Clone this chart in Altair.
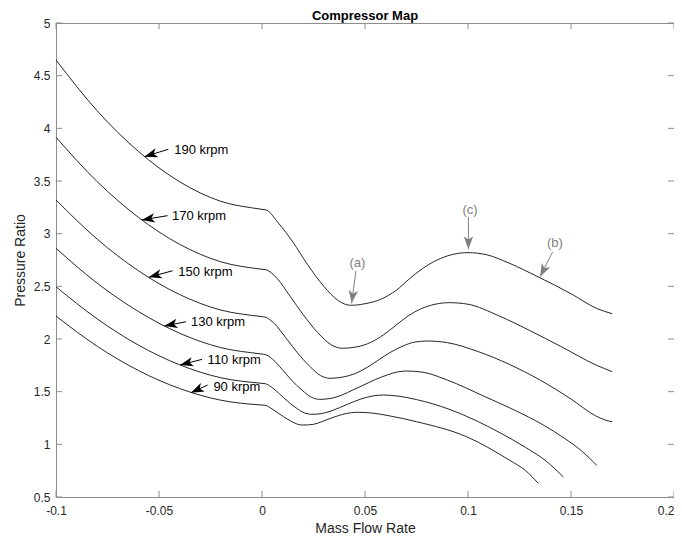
import math
import altair as alt
import pandas as pd

# ---------------- data ----------------
TITLE = "Compressor Map"
X_TICKS = [-0.1, -0.05, 0.0, 0.05, 0.1, 0.15, 0.2]
Y_TICKS = [0.5, 1.0, 1.5, 2.0, 2.5, 3.0, 3.5, 4.0, 4.5, 5.0]

SPEEDS = ["190 krpm", "170 krpm", "150 krpm", "130 krpm", "110 krpm", "90 krpm"]

X_LEFT = [-0.1, -0.08, -0.06, -0.04, -0.02, 0.0]

Y_LEFT_190 = [4.649, 4.166, 3.781, 3.493, 3.307, 3.231]
X_RIGHT_190 = [0.002, 0.008, 0.015, 0.022, 0.030, 0.037, 0.043, 0.050, 0.058, 0.065, 0.0715, 0.078, 0.085, 0.092, 0.100, 0.109, 0.120, 0.134, 0.150, 0.1625, 0.170]
Y_RIGHT_190 = [3.225, 3.10, 2.92, 2.71, 2.50, 2.365, 2.32, 2.335, 2.38, 2.46, 2.57, 2.67, 2.75, 2.80, 2.82, 2.80, 2.72, 2.59, 2.43, 2.29, 2.24]

Y_LEFT_170 = [3.915, 3.494, 3.155, 2.899, 2.733, 2.662]
X_RIGHT_170 = [0.002, 0.0073, 0.0136, 0.020, 0.027, 0.0336, 0.039, 0.046, 0.053, 0.059, 0.065, 0.071, 0.077, 0.084, 0.091, 0.100, 0.115, 0.130, 0.145, 0.1625, 0.170]
Y_RIGHT_170 = [2.657, 2.575, 2.407, 2.231, 2.062, 1.945, 1.912, 1.925, 1.97, 2.04, 2.13, 2.22, 2.285, 2.33, 2.345, 2.33, 2.22, 2.08, 1.93, 1.75, 1.69]

Y_LEFT_150 = [3.320, 2.948, 2.648, 2.422, 2.275, 2.212]
X_RIGHT_150 = [0.0015, 0.0061, 0.0115, 0.0169, 0.023, 0.0284, 0.033, 0.039, 0.045, 0.051, 0.0565, 0.062, 0.068, 0.074, 0.080, 0.090, 0.105, 0.120, 0.135, 0.150, 0.162, 0.167, 0.170]
Y_RIGHT_150 = [2.208, 2.144, 2.013, 1.876, 1.744, 1.653, 1.627, 1.638, 1.67, 1.73, 1.80, 1.87, 1.93, 1.97, 1.981, 1.965, 1.88, 1.76, 1.61, 1.43, 1.27, 1.228, 1.215]

Y_LEFT_130 = [2.861, 2.530, 2.261, 2.055, 1.918, 1.857]
X_RIGHT_130 = [0.0015, 0.0052, 0.0098, 0.0143, 0.0195, 0.0241, 0.028, 0.033, 0.039, 0.044, 0.049, 0.055, 0.061, 0.066, 0.0702, 0.078, 0.090, 0.1074, 0.1236, 0.136, 0.147, 0.155, 0.1625]
Y_RIGHT_130 = [1.853, 1.807, 1.711, 1.610, 1.513, 1.446, 1.427, 1.435, 1.47, 1.515, 1.56, 1.615, 1.66, 1.688, 1.696, 1.685, 1.61, 1.46, 1.315, 1.19, 1.055, 0.94, 0.80]

Y_LEFT_110 = [2.496, 2.191, 1.942, 1.755, 1.632, 1.579]
X_RIGHT_110 = [0.0015, 0.0045, 0.0085, 0.0124, 0.0168, 0.0208, 0.0241, 0.029, 0.034, 0.0415, 0.048, 0.054, 0.0589, 0.066, 0.075, 0.0913, 0.1155, 0.128, 0.138, 0.1463]
Y_RIGHT_110 = [1.576, 1.545, 1.479, 1.409, 1.343, 1.297, 1.285, 1.292, 1.32, 1.38, 1.43, 1.46, 1.468, 1.458, 1.425, 1.33, 1.11, 0.97, 0.84, 0.69]

Y_LEFT_90 = [2.218, 1.931, 1.701, 1.530, 1.419, 1.373]
X_RIGHT_90 = [0.0015, 0.0037, 0.007, 0.0103, 0.014, 0.0172, 0.020, 0.025, 0.029, 0.033, 0.037, 0.041, 0.046, 0.053, 0.062, 0.075, 0.0993, 0.12, 0.128, 0.1341]
Y_RIGHT_90 = [1.371, 1.351, 1.308, 1.264, 1.221, 1.191, 1.183, 1.19, 1.215, 1.245, 1.272, 1.293, 1.304, 1.298, 1.27, 1.215, 1.072, 0.851, 0.75, 0.63]

# speed labels with arrows (data coordinates)
KRPM_TIP_X = [-0.0571, -0.0584, -0.0550, -0.0474, -0.0398, -0.0345]
KRPM_TIP_Y = [3.731, 3.130, 2.586, 2.123, 1.753, 1.490]
KRPM_TAIL_X = [-0.0455, -0.0458, -0.0434, -0.0369, -0.0291, -0.0264]
KRPM_TAIL_Y = [3.801, 3.171, 2.648, 2.164, 1.807, 1.563]
KRPM_TEXT_X = [-0.0426, -0.0437, -0.0406, -0.0345, -0.0264, -0.0236]
KRPM_TEXT_Y = [3.794, 3.171, 2.636, 2.164, 1.800, 1.541]

# gray point annotations
PT_LABELS = ["(a)", "(c)", "(b)"]
PT_TEXT_X = [0.0463, 0.1010, 0.1422]
PT_TEXT_Y = [2.718, 3.225, 2.908]
PT_TAIL_X = [0.0456, 0.1002, 0.1411]
PT_TAIL_Y = [2.646, 3.161, 2.829]
PT_TIP_X = [0.0435, 0.1002, 0.1350]
PT_TIP_Y = [2.339, 2.852, 2.591]

# ---------------- build tables ----------------
W, H = 618, 474
X_DOM = [-0.1, 0.2]
Y_DOM = [0.5, 5.0]
FONT = "Liberation Sans"
AXIS_COLOR = "#8c8c8c"
TEXT_COLOR = "#262626"

left = {"190 krpm": Y_LEFT_190, "170 krpm": Y_LEFT_170, "150 krpm": Y_LEFT_150,
        "130 krpm": Y_LEFT_130, "110 krpm": Y_LEFT_110, "90 krpm": Y_LEFT_90}
right = {"190 krpm": (X_RIGHT_190, Y_RIGHT_190), "170 krpm": (X_RIGHT_170, Y_RIGHT_170),
         "150 krpm": (X_RIGHT_150, Y_RIGHT_150), "130 krpm": (X_RIGHT_130, Y_RIGHT_130),
         "110 krpm": (X_RIGHT_110, Y_RIGHT_110), "90 krpm": (X_RIGHT_90, Y_RIGHT_90)}
rows = []
for s in SPEEDS:
    xs = X_LEFT + right[s][0]
    ys = left[s] + right[s][1]
    for i, (a, b) in enumerate(zip(xs, ys)):
        rows.append({"speed": s, "i": i, "x": a, "y": b})
curves = pd.DataFrame(rows)

SX = W / (X_DOM[1] - X_DOM[0])
SY = H / (Y_DOM[1] - Y_DOM[0])


def head_angle(tx, ty, hx, hy):
    dx = (hx - tx) * SX
    dy = -(hy - ty) * SY
    return math.degrees(math.atan2(dx, -dy)) % 360


krpm = pd.DataFrame({
    "label": SPEEDS, "x": KRPM_TAIL_X, "y": KRPM_TAIL_Y, "x2": KRPM_TIP_X, "y2": KRPM_TIP_Y,
    "tx": KRPM_TEXT_X, "ty": KRPM_TEXT_Y,
})
krpm["angle"] = [head_angle(a, b, c, d) for a, b, c, d in zip(KRPM_TAIL_X, KRPM_TAIL_Y, KRPM_TIP_X, KRPM_TIP_Y)]

pts = pd.DataFrame({
    "label": PT_LABELS, "x": PT_TAIL_X, "y": PT_TAIL_Y, "x2": PT_TIP_X, "y2": PT_TIP_Y,
    "tx": PT_TEXT_X, "ty": PT_TEXT_Y,
})
pts["angle"] = [head_angle(a, b, c, d) for a, b, c, d in zip(PT_TAIL_X, PT_TAIL_Y, PT_TIP_X, PT_TIP_Y)]

xticks = pd.DataFrame({"x": X_TICKS})
yticks = pd.DataFrame({"y": Y_TICKS})

xscale = alt.Scale(domain=X_DOM, nice=False, zero=False)
yscale = alt.Scale(domain=Y_DOM, nice=False, zero=False)

xaxis = alt.Axis(values=X_TICKS, ticks=False, domain=False, grid=False,
                 labelExpr="'' + datum.value", labelFont=FONT, labelFontSize=12,
                 labelColor=TEXT_COLOR, labelPadding=8, labelFlush=False, labelOverlap=False,
                 labelAlign={"condition": {"test": "datum.value >= 0.2", "value": "right"}, "value": "center"},
                 titleFont=FONT, titleFontSize=14, titleFontWeight="normal", titleColor=TEXT_COLOR,
                 titleY=31, titleBaseline="middle")
yaxis = alt.Axis(values=Y_TICKS, ticks=False, domain=False, grid=False,
                 labelExpr="'' + datum.value", labelFont=FONT, labelFontSize=12,
                 labelColor=TEXT_COLOR, labelPadding=6, labelFlush=False, labelOverlap=False,
                 titleFont=FONT, titleFontSize=14, titleFontWeight="normal", titleColor=TEXT_COLOR,
                 titleX=-36, titleY=H / 2, titleBaseline="middle")


def X(f):
    return alt.X(f, type="quantitative", scale=xscale, axis=xaxis, title="Mass Flow Rate")


def Y(f):
    return alt.Y(f, type="quantitative", scale=yscale, axis=yaxis, title="Pressure Ratio")


lines = alt.Chart(curves).mark_line(color="#262626", strokeWidth=1, interpolate="monotone").encode(
    x=X("x"), y=Y("y"), detail="speed:N", order="i:Q")

ARROW = "M0,0L0.9,2.5L0,1.85L-0.9,2.5Z"


def arrow_layers(df, color, text_align, text_size):
    rule = alt.Chart(df).mark_rule(color=color, strokeWidth=1).encode(
        x=X("x"), y=Y("y"), x2="x2:Q", y2="y2:Q")
    head = alt.Chart(df).mark_point(shape=ARROW, filled=True, size=110, opacity=1,
                                    color=color, strokeWidth=0).encode(
        x=X("x2"), y=Y("y2"), angle=alt.Angle("angle:Q", scale=None))
    text = alt.Chart(df).mark_text(align=text_align, baseline="middle", font=FONT,
                                   fontSize=text_size, color=color).encode(
        x=X("tx"), y=Y("ty"), text="label:N")
    return [rule, head, text]


tick_b = alt.Chart(xticks).mark_rule(color=AXIS_COLOR, strokeWidth=1).encode(
    x=X("x"), y=alt.value(H), y2=alt.value(H - 6))
tick_t = alt.Chart(xticks).mark_rule(color=AXIS_COLOR, strokeWidth=1).encode(
    x=X("x"), y=alt.value(0), y2=alt.value(6))
tick_l = alt.Chart(yticks).mark_rule(color=AXIS_COLOR, strokeWidth=1).encode(
    y=Y("y"), x=alt.value(0), x2=alt.value(6))
tick_r = alt.Chart(yticks).mark_rule(color=AXIS_COLOR, strokeWidth=1).encode(
    y=Y("y"), x=alt.value(W), x2=alt.value(W - 6))

title = alt.Chart(pd.DataFrame({"t": [TITLE]})).mark_text(
    font=FONT, fontSize=13, fontWeight="bold", color="#000000",
    align="center", baseline="alphabetic").encode(
    x=alt.value(W / 2), y=alt.value(-3), text="t:N")

chart = alt.layer(
    lines, tick_b, tick_t, tick_l, tick_r,
    *arrow_layers(krpm, "#000000", "left", 13),
    *arrow_layers(pts, "#808080", "center", 13),
    title,
).properties(
    width=W, height=H,
    autosize=alt.AutoSizeParams(type="none"),
    padding={"left": 48, "top": 15, "right": 0, "bottom": 37},
).configure_view(stroke=AXIS_COLOR, strokeWidth=1)

chart.save("out.html", embed_options={"renderer": "svg", "actions": False})
